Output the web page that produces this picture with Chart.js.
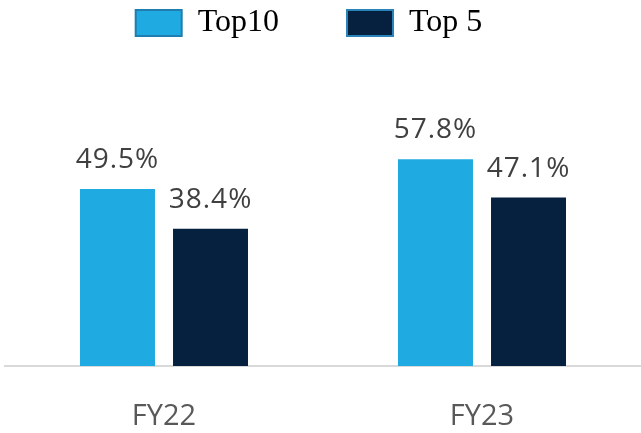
<!DOCTYPE html>
<html>
<head>
<meta charset="utf-8">
<script src="https://cdn.jsdelivr.net/npm/chart.js@4/dist/chart.umd.min.js"></script>
<style>
  html, body { margin: 0; padding: 0; background: #ffffff; }
  #wrap { width: 641px; height: 433px; }
</style>
</head>
<body>
<div id="wrap"><canvas id="grafico"></canvas></div>
<script>
// dados
const anos = ['FY22', 'FY23'];
const top10 = [49.5, 57.8];
const top5 = [38.4, 47.1];
const nomesSeries = ['Top10', 'Top 5'];

const corTop10 = '#1fabe1';
const corTop5 = '#05213f';
const bordaLegenda = ['#1f7db0', '#2a84b8'];

// altura fixa da legenda, para o topo da área do gráfico ficar em 80px
const alturaLegenda = 80;

const ajusteLegenda = {
  id: 'ajusteLegenda',
  afterInit(chart) {
    const legend = chart.legend;
    const fitOriginal = legend.fit;
    legend.fit = function () {
      fitOriginal.call(this);
      this.height = alturaLegenda;
    };
  },
  afterLayout(chart) {
    // sobe e desloca a legenda um pouco para a esquerda
    const legend = chart.legend;
    legend.top = -61;
    legend.left -= 14;
    legend.right -= 14;
  }
};

// rótulos de valor acima de cada barra
const rotulosValor = {
  id: 'rotulosValor',
  afterDatasetsDraw(chart) {
    const ctx = chart.ctx;
    ctx.save();
    ctx.font = '28px "Open Sans"';
    ctx.letterSpacing = '1px';
    ctx.fillStyle = '#404040';
    ctx.textAlign = 'center';
    ctx.textBaseline = 'alphabetic';
    chart.data.datasets.forEach((ds, i) => {
      chart.getDatasetMeta(i).data.forEach((bar, j) => {
        ctx.fillText(ds.data[j].toFixed(1) + '%', bar.x, bar.y - 21);
      });
    });
    ctx.restore();
  }
};

new Chart(document.getElementById('grafico').getContext('2d'), {
  type: 'bar',
  data: {
    labels: anos,
    datasets: [
      { label: nomesSeries[0], data: top10, backgroundColor: corTop10, borderWidth: 0 },
      { label: nomesSeries[1], data: top5, backgroundColor: corTop5, borderWidth: 0 }
    ]
  },
  options: {
    responsive: true,
    maintainAspectRatio: false,
    animation: false,
    categoryPercentage: 0.585,
    barPercentage: 0.806,
    layout: { padding: { left: 5, right: 0, top: 0, bottom: 0 } },
    plugins: {
      tooltip: { enabled: false },
      legend: {
        position: 'top',
        labels: {
          boxWidth: 46,
          boxHeight: 26,
          padding: 68,
          color: '#000000',
          font: { family: '"Liberation Serif"', size: 32 },
          generateLabels(chart) {
            return chart.data.datasets.map((ds, i) => ({
              text: ds.label,
              fillStyle: ds.backgroundColor,
              strokeStyle: bordaLegenda[i],
              lineWidth: 2,
              datasetIndex: i
            }));
          }
        }
      }
    },
    scales: {
      x: {
        grid: { display: false, drawTicks: false },
        border: { display: true, color: '#d9d9d9', width: 2 },
        ticks: {
          color: '#595959',
          font: { family: '"Open Sans"', size: 29 },
          padding: 33
        },
        afterFit(scale) { scale.height = 67; }
      },
      y: {
        display: false,
        min: 0,
        max: 80
      }
    }
  },
  plugins: [ajusteLegenda, rotulosValor]
});
</script>
</body>
</html>
